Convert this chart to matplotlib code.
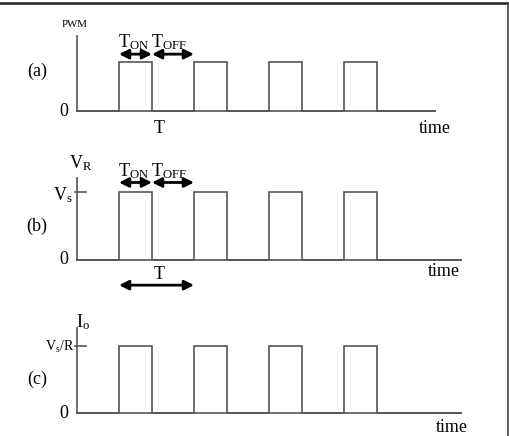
import matplotlib
matplotlib.use("Agg")
import matplotlib.pyplot as plt
from matplotlib.lines import Line2D
import numpy as np

plt.rcParams['font.family'] = ['Liberation Serif', 'DejaVu Serif']
plt.rcParams['mathtext.fontset'] = 'custom'
plt.rcParams['mathtext.rm'] = 'Liberation Serif'
plt.rcParams['mathtext.it'] = 'Liberation Serif:italic'

# ---- data (time in units of the period T, amplitude normalised) ----
period = 1.0
t_on = 0.44
pulse_starts = [0.56, 1.56, 2.56, 3.56]
amplitude = 1.0
panel_labels = ['(a)', '(b)', '(c)']
y_names = ['PWM', r'V$_{\mathrm{R}}$', r'I$_{\mathrm{o}}$']
level_labels = ['', r'V$_{\mathrm{s}}$', r'V$_{\mathrm{s}}$/R']
x_ends = [4.77, 5.12, 5.12]
y_tops = [1.53, 1.21, 1.27]

W, H = 509, 436
fig = plt.figure(figsize=(W / 100, H / 100), dpi=100)

# pixel geometry of panels: (baseline_px, top_px)
geom = [(111, 62), (260, 192), (413, 346)]
x0_px, px_per_T = 77, 75.0

def make_ax(base, top):
    left = x0_px / W
    width = 5.6 * px_per_T / W
    bottom = (H - base) / H
    height = (base - top) / H
    ax = fig.add_axes([left, bottom, width, height])
    ax.set_xlim(0, 5.6)
    ax.set_ylim(0, 1)
    ax.axis('off')
    return ax

def pulse_wave(x_end):
    t = [0.0]
    y = [0.0]
    for s in pulse_starts:
        t += [s, s, s + t_on, s + t_on]
        y += [0, amplitude, amplitude, 0]
    t.append(x_end)
    y.append(0)
    return np.array(t), np.array(y)

line_col = '#555555'
fs = 13

def arrow(ax, x1, x2, y):
    ax.annotate('', xy=(x2, y), xytext=(x1, y), xycoords='data',
                arrowprops=dict(arrowstyle='<|-|>', color='black', lw=2.0,
                                mutation_scale=14, shrinkA=0, shrinkB=0),
                annotation_clip=False)

for i, (base, top) in enumerate(geom):
    ax = make_ax(base, top)
    t, y = pulse_wave(x_ends[i])
    ax.plot(t, y, color=line_col, lw=1.2, clip_on=False, solid_joinstyle='miter')
    # axes lines
    ax.plot([0, x_ends[i]], [0, 0], color=line_col, lw=1.2, clip_on=False)
    ax.plot([0, 0], [0, y_tops[i]], color=line_col, lw=1.2, clip_on=False)
    # zero label
    ax.text(-0.17, 0.0, '0', fontsize=fs, ha='center', va='center', clip_on=False)
    # panel label
    ax.text(-0.53, 0.8 if i == 0 else 0.5, panel_labels[i], fontsize=fs,
            ha='center', va='center')

# panel (a)
axa = fig.axes[0]
axa.text(-0.03, 1.76, y_names[0], fontsize=7.8, ha='center', va='center')
axa.text(1.09, -0.35, 'T', fontsize=fs, ha='center', va='center')
axa.text(4.77, -0.35, 'time', fontsize=fs, ha='center', va='center')
arrow(axa, pulse_starts[0], pulse_starts[0] + t_on, 1.16)
arrow(axa, pulse_starts[0] + t_on, pulse_starts[0] + period, 1.16)
axa.text(0.75, 1.41, r'T$_{\mathrm{ON}}$', fontsize=fs, ha='center', va='center')
axa.text(1.22, 1.41, r'T$_{\mathrm{OFF}}$', fontsize=fs, ha='center', va='center')

# panel (b)
axb = fig.axes[1]
axb.text(0.05, 1.43, y_names[1], fontsize=fs, ha='center', va='center')
axb.plot([-0.03, 0.12], [1, 1], color=line_col, lw=1.2, clip_on=False)
axb.text(-0.19, 0.96, level_labels[1], fontsize=fs, ha='center', va='center')
arrow(axb, pulse_starts[0], pulse_starts[0] + t_on, 1.14)
arrow(axb, pulse_starts[0] + t_on, pulse_starts[0] + period, 1.14)
axb.text(0.75, 1.30, r'T$_{\mathrm{ON}}$', fontsize=fs, ha='center', va='center')
axb.text(1.22, 1.30, r'T$_{\mathrm{OFF}}$', fontsize=fs, ha='center', va='center')
axb.text(4.89, -0.17, 'time', fontsize=fs, ha='center', va='center')
axb.text(1.09, -0.22, 'T', fontsize=fs, ha='center', va='center')
arrow(axb, pulse_starts[0], pulse_starts[0] + period, -0.37)

# panel (c)
axc = fig.axes[2]
axc.text(0.08, 1.36, y_names[2], fontsize=fs, ha='center', va='center')
axc.plot([-0.03, 0.12], [1, 1], color=line_col, lw=1.2, clip_on=False)
axc.text(-0.23, 0.99, level_labels[2], fontsize=10, ha='center', va='center')
axc.text(5.0, -0.22, 'time', fontsize=fs, ha='center', va='center')

# frame lines (top and right)
fig.add_artist(Line2D([0, 507.5 / W], [1 - 3.5 / H, 1 - 3.5 / H], color='#222222', lw=1.8,
                      transform=fig.transFigure))
fig.add_artist(Line2D([507.5 / W, 507.5 / W], [0, 1 - 3.5 / H], color='#444444', lw=1.2,
                      transform=fig.transFigure))

fig.savefig('out.png', dpi=100)
